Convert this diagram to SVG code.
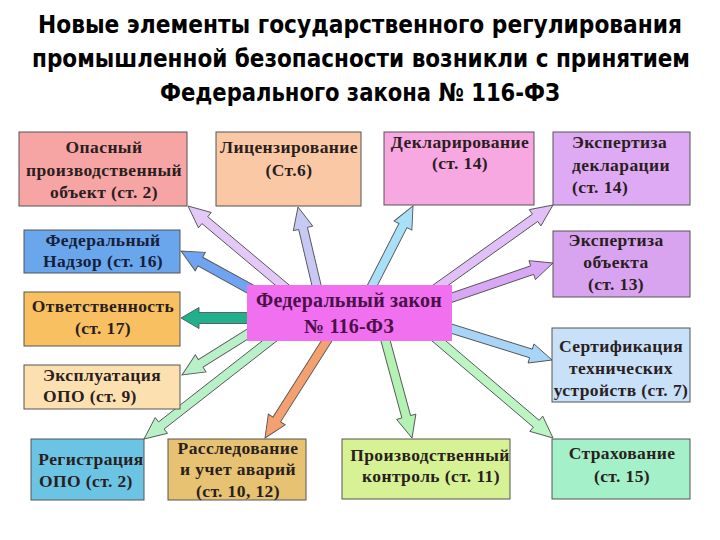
<svg xmlns="http://www.w3.org/2000/svg" width="720" height="540" viewBox="0 0 720 540">
<style>
.title{font-family:"DejaVu Sans","Liberation Sans",sans-serif;font-stretch:condensed;font-weight:bold;font-size:25px;fill:#000;text-anchor:middle}
.box{stroke:#555;stroke-width:1}
.t{font-weight:bold;font-size:17.5px;letter-spacing:0.4px;fill:#2a1e1e;text-anchor:middle}
.tl{text-anchor:start}
.arr{stroke:#555;stroke-width:0.9;stroke-linejoin:miter}
</style>
<rect width="720" height="540" fill="#fff"/>
<g id="title">
<text class="title" x="360" y="33" textLength="644" lengthAdjust="spacingAndGlyphs">Новые элементы государственного регулирования</text>
<text class="title" x="361" y="67" textLength="658" lengthAdjust="spacingAndGlyphs">промышленной безопасности возникли с принятием</text>
<text class="title" x="360" y="101" textLength="400" lengthAdjust="spacingAndGlyphs">Федерального закона № 116-ФЗ</text>
</g>
<g id="connectors">
<g transform="translate(188,206) rotate(220)"><polygon class="arr" fill="#e4c8f8" points="-146,-4.5 -22,-4.5 -22,-10 0,0 -22,10 -22,4.5 -146,4.5"/></g>
<g transform="translate(181,251) rotate(208.8)"><polygon class="arr" fill="#70a4f0" points="-102,-5 -22,-5 -22,-10.5 0,0 -22,10.5 -22,5 -102,5"/></g>
<g transform="translate(298,207) rotate(256.7)"><polygon class="arr" fill="#c8c8f4" points="-96,-4.5 -22,-4.5 -22,-10 0,0 -22,10 -22,4.5 -96,4.5"/></g>
<g transform="translate(413,206) rotate(297.1)"><polygon class="arr" fill="#a8e0f8" points="-106,-4.5 -22,-4.5 -22,-10 0,0 -22,10 -22,4.5 -106,4.5"/></g>
<g transform="translate(553,205) rotate(-35.5)"><polygon class="arr" fill="#e0c0f6" points="-163,-4.5 -22,-4.5 -22,-10 0,0 -22,10 -22,4.5 -163,4.5"/></g>
<g transform="translate(553,263) rotate(-18.9)"><polygon class="arr" fill="#d8a8f4" points="-130,-4.5 -22,-4.5 -22,-10 0,0 -22,10 -22,4.5 -130,4.5"/></g>
<g transform="translate(552,360) rotate(17.3)"><polygon class="arr" fill="#a8d4f8" points="-128,-4.5 -22,-4.5 -22,-10 0,0 -22,10 -22,4.5 -128,4.5"/></g>
<g transform="translate(553,438) rotate(40.4)"><polygon class="arr" fill="#bcf4c4" points="-175,-4.5 -22,-4.5 -22,-10 0,0 -22,10 -22,4.5 -175,4.5"/></g>
<g transform="translate(412,438) rotate(74.8)"><polygon class="arr" fill="#b4f2b4" points="-122,-4.5 -22,-4.5 -22,-10 0,0 -22,10 -22,4.5 -122,4.5"/></g>
<g transform="translate(265,438) rotate(122.4)"><polygon class="arr" fill="#f4a070" points="-140,-4.5 -22,-4.5 -22,-10 0,0 -22,10 -22,4.5 -140,4.5"/></g>
<g transform="translate(144,439) rotate(142)"><polygon class="arr" fill="#b8f0c8" points="-185,-4.5 -22,-4.5 -22,-10 0,0 -22,10 -22,4.5 -185,4.5"/></g>
<g transform="translate(182,375) rotate(148)"><polygon class="arr" fill="#b8f0c8" points="-104,-4.5 -22,-4.5 -22,-10 0,0 -22,10 -22,4.5 -104,4.5"/></g>
<g transform="translate(181,318) rotate(180)"><polygon class="arr" fill="#20b08c" points="-79,-5.5 -18,-5.5 -18,-10.5 0,0 -18,10.5 -18,5.5 -79,5.5"/></g>
</g>
<g id="nodes" font-family="Liberation Serif, DejaVu Serif, serif">
<g id="n-opo">
<rect class="box" x="19" y="132" width="168" height="74" fill="#f6a4a4"/>
<text class="t" x="104" y="153">Опасный</text>
<text class="t" x="104" y="176">производственный</text>
<text class="t" x="104" y="198">объект (ст. 2)</text>
</g>
<g id="n-nadzor">
<rect class="box" x="24" y="230" width="156" height="43" fill="#6aa6ec"/>
<text class="t" x="103" y="246" style="fill:#15203a">Федеральный</text>
<text class="t" x="103" y="267" style="fill:#15203a">Надзор (ст. 16)</text>
</g>
<g id="n-licenz">
<rect class="box" x="216" y="132" width="145" height="74" fill="#fac8a4"/>
<text class="t" x="289" y="153">Лицензирование</text>
<text class="t" x="289" y="176">(Ст.6)</text>
</g>
<g id="n-deklar">
<rect class="box" x="384" y="132" width="150" height="73" fill="#f8a8e0"/>
<text class="t" x="460" y="148">Декларирование</text>
<text class="t" x="460" y="169">(ст. 14)</text>
</g>
<g id="n-eksp-dekl">
<rect class="box" x="553" y="132" width="137" height="73" fill="#deaaf4"/>
<text class="t tl" x="572" y="148">Экспертиза</text>
<text class="t tl" x="572" y="171">декларации</text>
<text class="t tl" x="572" y="193">(ст. 14)</text>
</g>
<g id="n-eksp-obj">
<rect class="box" x="553" y="231" width="137" height="66" fill="#d8a4f0"/>
<text class="t" x="616" y="246">Экспертиза</text>
<text class="t" x="616" y="268">объекта</text>
<text class="t" x="616" y="290">(ст. 13)</text>
</g>
<g id="n-otv">
<rect class="box" x="24" y="292" width="156" height="54" fill="#f8c060"/>
<text class="t" x="103" y="312">Ответственность</text>
<text class="t" x="103" y="334">(ст. 17)</text>
</g>
<g id="n-ekspl">
<rect class="box" x="24" y="365" width="156" height="44" fill="#fde0b0"/>
<text class="t" x="102" y="381">Эксплуатация</text>
<text class="t tl" x="43" y="402">ОПО (ст. 9)</text>
</g>
<g id="n-center">
<rect x="247" y="285" width="205" height="56" fill="#f070f0"/>
<text class="t" x="349" y="307" style="font-size:20px;letter-spacing:0.2px;fill:#4a1048">Федеральный закон</text>
<text class="t" x="349" y="333" style="font-size:20px;letter-spacing:0.2px;fill:#4a1048">№ 116-ФЗ</text>
</g>
<g id="n-sert">
<rect class="box" x="552" y="328" width="138" height="74" fill="#c8e0f8"/>
<text class="t" x="621" y="352">Сертификация</text>
<text class="t" x="621" y="374">технических</text>
<text class="t" x="621" y="396">устройств (ст. 7)</text>
</g>
<g id="n-reg">
<rect class="box" x="31" y="439" width="113" height="61" fill="#6cc4e4"/>
<text class="t" x="91" y="465">Регистрация</text>
<text class="t tl" x="39" y="487">ОПО (ст. 2)</text>
</g>
<g id="n-rassl">
<rect class="box" x="168" y="439" width="138" height="61" fill="#e6c272"/>
<text class="t" x="238" y="454">Расследование</text>
<text class="t" x="238" y="475">и учет аварий</text>
<text class="t" x="238" y="497">(ст. 10, 12)</text>
</g>
<g id="n-pk">
<rect class="box" x="342" y="439" width="168" height="60" fill="#d6f294"/>
<text class="t" x="430" y="461">Производственный</text>
<text class="t" x="431" y="482">контроль (ст. 11)</text>
</g>
<g id="n-strah">
<rect class="box" x="552" y="439" width="138" height="60" fill="#a4f0c8"/>
<text class="t" x="622" y="459">Страхование</text>
<text class="t" x="622" y="482">(ст. 15)</text>
</g>
</g>
</svg>
